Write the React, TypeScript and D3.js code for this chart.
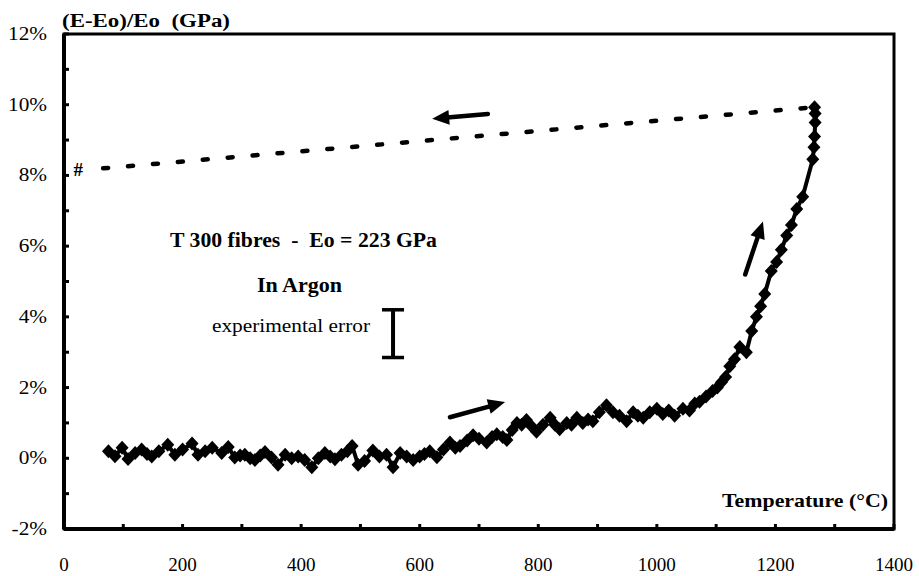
import React from 'react';
import * as d3 from 'd3';

// heating run, T 300 fibres in argon
const temps = [
  75, 86, 98, 108, 120, 131, 140, 148, 160, 175, 187, 200, 216, 226, 238, 250, 266, 277, 288, 297,
  305, 314, 322, 331, 339, 350, 361, 373, 384, 395, 406, 418, 429, 440, 449, 457, 468, 478, 486, 496,
  507, 521, 532, 544, 555, 567, 578, 589, 600, 608, 617, 629, 640, 651, 660, 668, 680, 690, 700, 713,
  722, 730, 740, 747, 756, 764, 772, 780, 789, 797, 808, 820, 828, 836, 848, 856, 865, 875, 884, 892,
  903, 915, 926, 937, 949, 960, 968, 977, 988, 1000, 1010, 1020, 1030, 1044, 1055, 1064, 1072, 1083, 1094, 1102,
  1109, 1116, 1123, 1131, 1140, 1151, 1160, 1168, 1175, 1182, 1193, 1202, 1210, 1219, 1227, 1236, 1246, 1263, 1265, 1266,
  1267, 1267, 1266,
];
const modulus = [
  0.2, 0.06, 0.3, -0.02, 0.15, 0.25, 0.12, 0.05, 0.2, 0.38, 0.1, 0.25, 0.42, 0.1, 0.2, 0.3, 0.15, 0.32, 0.02, 0.08,
  0.1, 0.0, -0.05, 0.08, 0.18, 0.02, -0.18, 0.1, 0.0, 0.05, -0.05, -0.25, 0.0, 0.15, 0.05, -0.03, 0.1, 0.2, 0.35, -0.18,
  -0.08, 0.22, 0.05, 0.1, -0.25, 0.15, 0.05, -0.05, 0.05, 0.12, 0.2, 0.03, 0.25, 0.45, 0.3, 0.35, 0.5, 0.65, 0.55, 0.45,
  0.6, 0.68, 0.6, 0.52, 0.8, 1.0, 0.95, 1.08, 0.9, 0.75, 0.95, 1.15, 0.95, 0.82, 1.0, 0.95, 1.15, 1.0, 1.1, 1.05,
  1.3, 1.5, 1.3, 1.2, 1.05, 1.3, 1.2, 1.15, 1.3, 1.4, 1.25, 1.35, 1.2, 1.4, 1.35, 1.55, 1.6, 1.75, 1.9, 2.0,
  2.15, 2.3, 2.6, 2.8, 3.15, 3.0, 3.6, 4.0, 4.3, 4.65, 5.3, 5.55, 5.9, 6.3, 6.6, 7.05, 7.4, 8.46, 8.8, 9.1,
  9.5, 9.75, 9.93,
];

// cooling (dashed) line and its end marker
const coolTemps = [66, 1266];
const coolValues = [8.2, 9.93];
const hashPoint = { t: 24, v: 8.15 };

const xTicks = [0, 200, 400, 600, 800, 1000, 1200, 1400];
const yTicks = [-2, 0, 2, 4, 6, 8, 10, 12];

// arrows [tailT, tailV, tipT, tipV]
const arrows = [
  [715, 9.74, 621, 9.6],
  [651, 1.16, 744, 1.59],
  [1149, 5.2, 1179, 6.7],
];
const errorBar = { t: 555, lo: 2.85, hi: 4.2 };

const W = 919;
const H = 576;
const x = d3.scaleLinear().domain([0, 1400]).range([64, 894]);
const y = d3.scaleLinear().domain([-2, 12]).range([529, 34]);

const font = '"Liberation Serif", "Times New Roman", serif';

const App: React.FC = () => {
  const pts = temps.map((t, i) => [t, modulus[i]] as [number, number]);
  const line = d3.line<[number, number]>().x(d => x(d[0])).y(d => y(d[1]));
  const cool = coolTemps.map((t, i) => [t, coolValues[i]] as [number, number]);
  const diamond = 'M0,-7L6.5,0L0,7L-6.5,0Z';

  const arrowShapes = arrows.map(([t0, v0, t1, v1], i) => {
    const x0 = x(t0), y0 = y(v0), x1 = x(t1), y1 = y(v1);
    const len = Math.hypot(x1 - x0, y1 - y0);
    const ux = (x1 - x0) / len, uy = (y1 - y0) / len;
    const hl = 17, hw = 7.5;
    const bx = x1 - ux * hl, by = y1 - uy * hl;
    const head = `M${x1},${y1}L${bx - uy * hw},${by + ux * hw}L${bx + uy * hw},${by - ux * hw}Z`;
    return (
      <g key={i}>
        <line x1={x0} y1={y0} x2={bx + ux * 2} y2={by + uy * 2} stroke="#000" strokeWidth={4.5} strokeLinecap="round" />
        <path d={head} fill="#000" />
      </g>
    );
  });

  const ex = x(errorBar.t);

  return (
    <svg width={W} height={H} style={{ position: 'absolute', left: 0, top: 0, background: '#fff' }} fontFamily={font}>
      <rect x={0} y={0} width={W} height={H} fill="#fff" />

      {/* ticks */}
      {d3.range(-2, 12.01, 1).map(v => (
        <line key={'yt' + v} x1={x(0)} x2={x(0) + 5} y1={y(v)} y2={y(v)} stroke="#000" strokeWidth={3} />
      ))}
      {d3.range(0, 1400.1, 100).map(t => (
        <line key={'xt' + t} x1={x(t)} x2={x(t)} y1={y(-2)} y2={y(-2) - 5} stroke="#000" strokeWidth={3} />
      ))}

      {/* frame */}
      <rect x={x(0)} y={y(12)} width={x(1400) - x(0)} height={y(-2) - y(12)} fill="none" stroke="#000" strokeWidth={3} />
      <line x1={x(0)} x2={x(0)} y1={y(12)} y2={y(-2)} stroke="#000" strokeWidth={4} />
      <line x1={x(0)} x2={x(1400)} y1={y(-2)} y2={y(-2)} stroke="#000" strokeWidth={4} />

      {/* tick labels */}
      {yTicks.map(v => (
        <text key={'yl' + v} transform={`translate(47,${y(v) + 6}) scale(1.12,1)`} textAnchor="end" fontSize={19}>
          {v + '%'}
        </text>
      ))}
      {xTicks.map(t => (
        <text key={'xl' + t} x={x(t)} y={571} textAnchor="middle" fontSize={19}>
          {t}
        </text>
      ))}

      {/* axis titles */}
      <text x={62} y={27} fontSize={18} fontWeight="bold" textLength={168} lengthAdjust="spacingAndGlyphs" style={{ whiteSpace: 'pre' }}>
        (E-Eo)/Eo  (GPa)
      </text>
      <text x={722} y={507} fontSize={19} fontWeight="bold" textLength={166} lengthAdjust="spacingAndGlyphs">
        Temperature (°C)
      </text>

      {/* cooling line */}
      <path d={line(cool) || ''} fill="none" stroke="#000" strokeWidth={4.5} strokeDasharray="5 20" strokeLinecap="round" />
      <text x={x(hashPoint.t)} y={y(hashPoint.v) + 6} textAnchor="middle" fontSize={19} fontWeight="bold">#</text>

      {/* heating run */}
      <path d={line(pts) || ''} fill="none" stroke="#000" strokeWidth={4} />
      {pts.map((d, i) => (
        <path key={i} d={diamond} transform={`translate(${x(d[0])},${y(d[1])})`} fill="#000" />
      ))}

      {arrowShapes}

      {/* annotations */}
      <text x={170} y={247} fontSize={20} fontWeight="bold" textLength={267} lengthAdjust="spacingAndGlyphs" style={{ whiteSpace: 'pre' }}>
        T 300 fibres  -  Eo = 223 GPa
      </text>
      <text x={257} y={292} fontSize={20} fontWeight="bold" textLength={85} lengthAdjust="spacingAndGlyphs">
        In Argon
      </text>
      <text x={212} y={332} fontSize={19} textLength={158} lengthAdjust="spacingAndGlyphs">
        experimental error
      </text>
      <g stroke="#000">
        <line x1={ex} x2={ex} y1={y(errorBar.hi)} y2={y(errorBar.lo)} strokeWidth={4} />
        <line x1={ex - 11} x2={ex + 11} y1={y(errorBar.hi)} y2={y(errorBar.hi)} strokeWidth={3.5} />
        <line x1={ex - 11} x2={ex + 11} y1={y(errorBar.lo)} y2={y(errorBar.lo)} strokeWidth={3.5} />
      </g>
    </svg>
  );
};

export default App;
